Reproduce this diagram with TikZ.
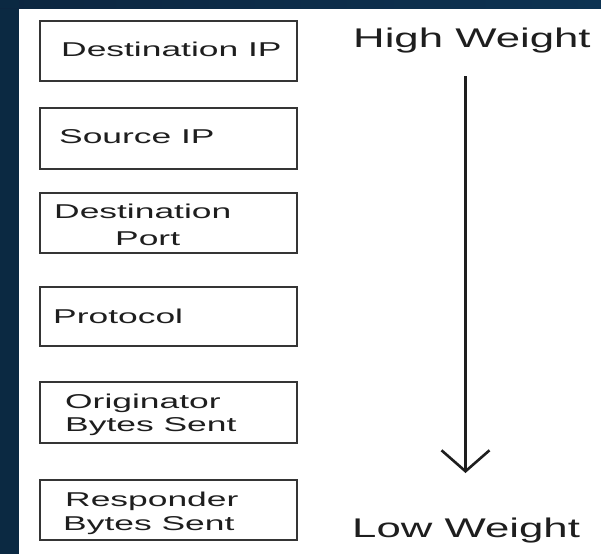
\documentclass[tikz,border=0pt]{standalone}
\usepackage{fontspec}
\setmainfont{Liberation Sans}
\newfontfamily\boxfont[FakeStretch=1.77]{Liberation Sans}
\newfontfamily\labfont[FakeStretch=1.62]{Liberation Sans}
\usetikzlibrary{arrows.meta}
\definecolor{navyL}{HTML}{0B2942}
\definecolor{navyA}{HTML}{0C2640}
\definecolor{navyB}{HTML}{134A6C}
\definecolor{navyC}{HTML}{0D3352}
\definecolor{ink}{HTML}{1E1E1E}
\tikzset{
  wbox/.style={draw=ink!90, line width=1.7pt, minimum width=257pt, inner sep=0pt},
  btxt/.style={anchor=base west, inner sep=0pt, text=ink, font=\boxfont\fontsize{20}{22}\selectfont},
  ltxt/.style={anchor=base west, inner sep=0pt, text=ink, font=\labfont\fontsize{27}{30}\selectfont},
  arr/.style={draw=ink, line width=2.6pt, -{Straight Barb[length=21pt,width=48pt]}}
}
\begin{document}
\begin{tikzpicture}[x=1pt,y=-1pt]
\useasboundingbox (0,0) rectangle (601,554);
\fill[white] (0,0) rectangle (601,554);
\fill[navyL] (0,0) rectangle (19,554);
\shade[left color=navyA, middle color=navyB, right color=navyC] (0,0) rectangle (601,8);
\fill[navyL] (0,0) rectangle (19,8);
% boxes
\node[wbox, minimum height=60pt] (b1) at (168.5,51) {};
\node[wbox, minimum height=61pt] (b2) at (168.5,138.5) {};
\node[wbox, minimum height=60pt] (b3) at (168.5,223) {};
\node[wbox, minimum height=59pt] (b4) at (168.5,316.5) {};
\node[wbox, minimum height=61pt] (b5) at (168.5,412.5) {};
\node[wbox, minimum height=60pt] (b6) at (168.5,510) {};
% texts
\node[btxt] (t1) at (61,56) {Destination IP};
\node[btxt] (t2) at (59,143) {Source IP};
\node[btxt] (t3a) at (54,218) {Destination};
\node[btxt] (t3b) at (115,245) {Port};
\node[btxt] (t4) at (53,323) {Protocol};
\node[btxt] (t5a) at (65,408) {Originator};
\node[btxt] (t5b) at (65,431) {Bytes Sent};
\node[btxt] (t6a) at (65,506) {Responder};
\node[btxt] (t6b) at (63,530) {Bytes Sent};
% weight labels and arrow
\node[ltxt] (hw) at (353,47) {High Weight};
\node[ltxt] (lw) at (352,537) {Low Weight};
\coordinate (as) at (465.5,76);
\coordinate (ae) at (465.5,473);
\draw[arr] (as) -- (ae);
\end{tikzpicture}
\end{document}
